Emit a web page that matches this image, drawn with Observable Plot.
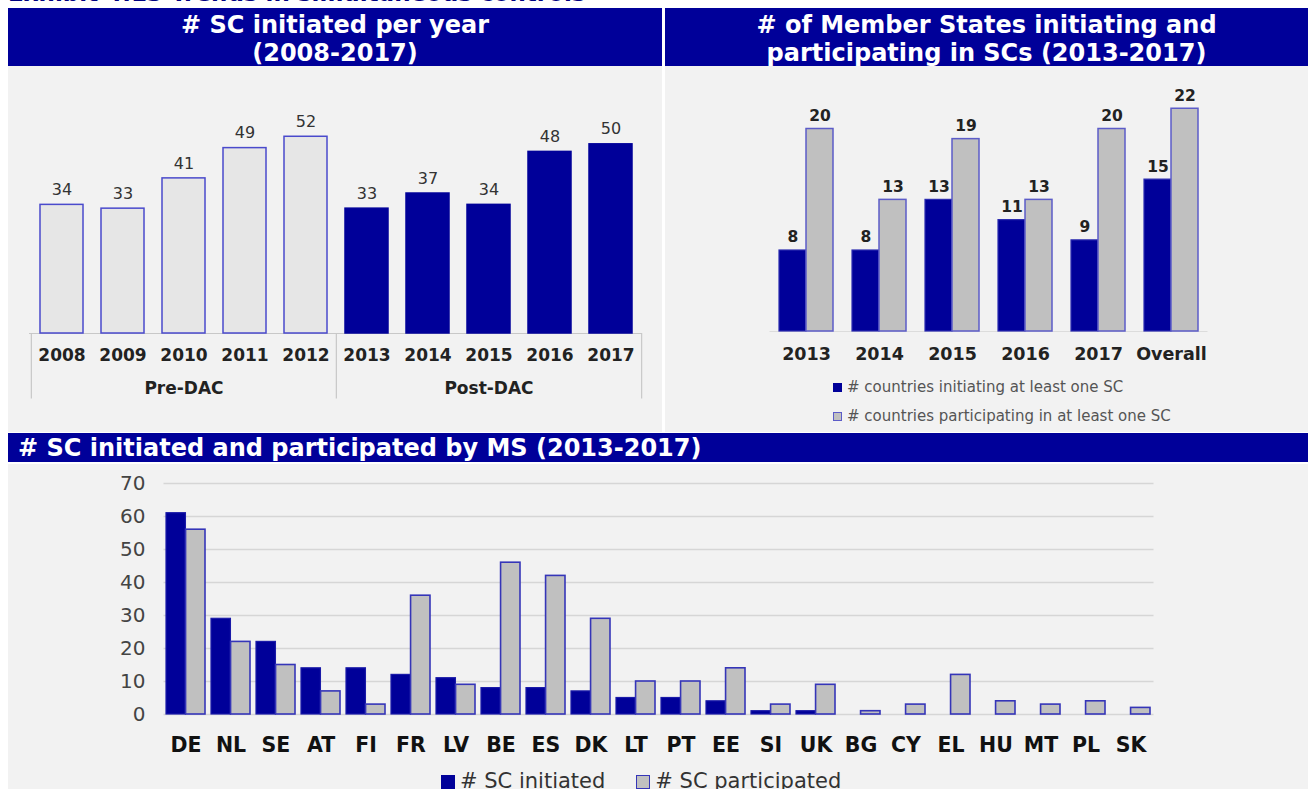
<!DOCTYPE html>
<html><head><meta charset="utf-8">
<script src="https://cdn.jsdelivr.net/npm/d3@7"></script>
<script src="https://cdn.jsdelivr.net/npm/@observablehq/plot@0.6"></script>
<style>
body{margin:0;background:#fff;width:1308px;height:789px;overflow:hidden;position:relative;font-family:"DejaVu Sans",Verdana,sans-serif;}
.abs{position:absolute;}
.hdr{background:#000099;color:#fff;font-weight:bold;font-size:24px;white-space:nowrap;}
.panel{background:#f2f2f2;}
.sq{display:inline-block;box-sizing:border-box;}
svg{overflow:visible;}
</style></head><body>
<div class="abs" style="left:8px;top:-20px;font-size:23px;font-weight:bold;color:#000080;white-space:nowrap;">Exhibit 4.13 Trends in simultaneous controls</div>

<div class="abs panel" id="p1" style="left:8px;top:66px;width:654px;height:366px;"></div>
<div class="abs panel" id="p2" style="left:665px;top:66px;width:643px;height:366px;"></div>
<div class="abs panel" id="p3" style="left:8px;top:464px;width:1300px;height:325px;"></div>

<div class="abs hdr" style="left:8px;top:8px;width:654px;height:58px;text-align:center;line-height:28px;padding-top:3px;box-sizing:border-box;"># SC initiated per year<br>(2008-2017)</div>
<div class="abs hdr" style="left:665px;top:8px;width:643px;height:58px;text-align:center;line-height:28px;padding-top:3px;box-sizing:border-box;"># of Member States initiating and<br>participating in SCs (2013-2017)</div>
<div class="abs hdr" style="left:8px;top:433px;width:1300px;height:29px;line-height:29px;padding-left:10px;padding-top:1px;box-sizing:border-box;"># SC initiated and participated by MS (2013-2017)</div>

<div class="abs" id="leg2" style="left:833px;top:373px;font-size:15px;color:#555;line-height:29px;white-space:nowrap;"></div>
<div class="abs" id="leg3" style="left:441px;top:768px;font-size:21px;color:#333;line-height:26px;white-space:nowrap;"></div>

<script>
// ---------- Data ----------
// Panel 1: # SC initiated per year
const years = ["2008","2009","2010","2011","2012","2013","2014","2015","2016","2017"];
const scPerYear = [34,33,41,49,52,33,37,34,48,50];
const yearPeriod = ["Pre-DAC","Pre-DAC","Pre-DAC","Pre-DAC","Pre-DAC","Post-DAC","Post-DAC","Post-DAC","Post-DAC","Post-DAC"];
const periods = ["Pre-DAC","Post-DAC"];

// Panel 2: # of Member States initiating and participating
const msCats = ["2013","2014","2015","2016","2017","Overall"];
const msInitiating = [8,8,13,11,9,15];
const msParticipating = [20,13,19,13,20,22];
const msSeries = ["# countries initiating at least one SC","# countries participating in at least one SC"];

// Panel 3: # SC initiated and participated by MS
const countries = ["DE","NL","SE","AT","FI","FR","LV","BE","ES","DK","LT","PT","EE","SI","UK","BG","CY","EL","HU","MT","PL","SK"];
const scInitiated = [61,29,22,14,14,12,11,8,8,7,5,5,4,1,1,0,0,0,0,0,0,0];
const scParticipated = [56,22,15,7,3,36,9,46,42,29,10,10,14,3,9,1,3,12,4,3,4,2];
const scSeries = ["# SC initiated","# SC participated"];
const yTicks3 = [0,10,20,30,40,50,60,70];

// ---------- Styles ----------
const BLUE = "#000099";
const FONT = "DejaVu Sans, Verdana, sans-serif";

// ---------- Panel 1 ----------
{
  const W = 654, H = 366, mL = 21, mR = 20;
  const step = (W - mL - mR) / years.length;
  const d1 = years.map((y, i) => ({year: y, value: scPerYear[i], period: yearPeriod[i]}));
  const groups = periods.map(p => {
    const ys = d1.filter(d => d.period === p).map(d => d.year);
    return {name: p, first: ys[0], last: ys[ys.length - 1], mid: ys[Math.floor(ys.length / 2)]};
  });
  const chart = Plot.plot({
    width: W, height: H, marginLeft: mL, marginRight: mR, marginTop: 40, marginBottom: 99,
    x: {domain: years, paddingInner: 0.3, paddingOuter: 0.15, axis: null},
    y: {domain: [0, 60], axis: null},
    style: {background: "transparent", fontFamily: FONT},
    marks: [
      Plot.ruleY([0], {stroke: "#c8c8c8", strokeWidth: 1.2}),
      Plot.ruleX(groups, {x: "first", y1: 0, y2: -17.3, dx: -step / 2, stroke: "#c8c8c8", strokeWidth: 1.2}),
      Plot.ruleX(groups.slice(-1), {x: "last", y1: 0, y2: -17.3, dx: step / 2, stroke: "#c8c8c8", strokeWidth: 1.2}),
      Plot.barY(d1.filter(d => d.period === "Pre-DAC"), {x: "year", y: "value", fill: "#e6e6e6", stroke: "#4a4acc", strokeWidth: 1.5}),
      Plot.barY(d1.filter(d => d.period === "Post-DAC"), {x: "year", y: "value", fill: BLUE, stroke: BLUE, strokeWidth: 1.5}),
      Plot.text(d1, {x: "year", y: "value", text: d => String(d.value), dy: -15, fontSize: 16, fill: "#333", lineAnchor: "middle"}),
      Plot.text(d1, {x: "year", y: 0, text: "year", dy: 22, fontSize: 17, fontWeight: "bold", fill: "#222", lineAnchor: "middle"}),
      Plot.text(groups, {x: "mid", y: 0, text: "name", dy: 55, fontSize: 17, fontWeight: "bold", fill: "#222", lineAnchor: "middle"})
    ]
  });
  document.getElementById("p1").appendChild(chart);
}

// ---------- Panel 2 ----------
{
  const W = 643, H = 366, mL = 104.5, mR = 100.5, pi = 0.26;
  const step = (W - mL - mR) / msCats.length;
  const half = step * (1 - pi) / 2;
  const d2 = msCats.map((c, i) => ({cat: c, init: msInitiating[i], part: msParticipating[i]}));
  const chart = Plot.plot({
    width: W, height: H, marginLeft: mL, marginRight: mR, marginTop: 22, marginBottom: 101,
    x: {domain: msCats, paddingInner: pi, paddingOuter: pi / 2, axis: null},
    y: {domain: [0, 24], axis: null},
    style: {background: "transparent", fontFamily: FONT},
    marks: [
      Plot.ruleY([0], {stroke: "#dcdcdc", strokeWidth: 1.2}),
      Plot.barY(d2, {x: "cat", y: "init", insetRight: half, fill: BLUE, stroke: "#2a2ab0", strokeWidth: 1.2}),
      Plot.barY(d2, {x: "cat", y: "part", insetLeft: half, fill: "#c0c0c0", stroke: "#5c5cc8", strokeWidth: 1.5}),
      Plot.text(d2, {x: "cat", y: "init", text: d => String(d.init), dx: -half / 2, dy: -13, fontSize: 15.5, fontWeight: "bold", fill: "#222", lineAnchor: "middle"}),
      Plot.text(d2, {x: "cat", y: "part", text: d => String(d.part), dx: half / 2, dy: -13, fontSize: 15.5, fontWeight: "bold", fill: "#222", lineAnchor: "middle"}),
      Plot.text(d2, {x: "cat", y: 0, text: "cat", dy: 23, fontSize: 17.5, fontWeight: "bold", fill: "#222", lineAnchor: "middle"})
    ]
  });
  document.getElementById("p2").appendChild(chart);
  const leg = document.getElementById("leg2");
  leg.innerHTML = msSeries.map((s, i) =>
    `<div><span class="sq" style="width:9px;height:9px;margin-right:5px;vertical-align:0px;background:${i === 0 ? BLUE : "#c0c0c0"};border:1px solid ${i === 0 ? BLUE : "#5c5cc8"}"></span>${s}</div>`
  ).join("");
}

// ---------- Panel 3 ----------
{
  const W = 1300, H = 325, mL = 155.5, mR = 154.5, pi = 0.13;
  const step = (W - mL - mR) / countries.length;
  const half = step * (1 - pi) / 2;
  const d3d = countries.map((c, i) => ({c, init: scInitiated[i], part: scParticipated[i]}));
  const chart = Plot.plot({
    width: W, height: H, marginLeft: mL, marginRight: mR, marginTop: 19, marginBottom: 75,
    x: {domain: countries, paddingInner: pi, paddingOuter: pi / 2, axis: null},
    y: {domain: [0, 70], axis: null},
    style: {background: "transparent", fontFamily: FONT},
    marks: [
      Plot.gridY(yTicks3, {stroke: "#d6d6d6", strokeOpacity: 1, strokeWidth: 1.5}),
      Plot.axisY(yTicks3, {tickSize: 0, tickPadding: 18.5, fontSize: 20, fill: "#444"}),
      Plot.barY(d3d.filter(d => d.init > 0), {x: "c", y: "init", insetRight: half, fill: BLUE, stroke: "#1a1aa8", strokeWidth: 1.2}),
      Plot.barY(d3d.filter(d => d.part > 0), {x: "c", y: "part", insetLeft: half, fill: "#c0c0c0", stroke: "#3535b8", strokeWidth: 1.6}),
      Plot.text(d3d, {x: "c", y: 0, text: "c", dy: 31, fontSize: 20.5, fontWeight: "bold", fill: "#111", lineAnchor: "middle"})
    ]
  });
  document.getElementById("p3").appendChild(chart);
  const leg = document.getElementById("leg3");
  leg.innerHTML = scSeries.map((s, i) =>
    `<span style="margin-right:${i === 0 ? 31 : 0}px"><span class="sq" style="width:14px;height:14px;margin-right:5px;vertical-align:-1px;background:${i === 0 ? BLUE : "#c0c0c0"};border:1.5px solid ${i === 0 ? BLUE : "#3535b8"}"></span>${s}</span>`
  ).join("");
}
</script>
</body></html>
